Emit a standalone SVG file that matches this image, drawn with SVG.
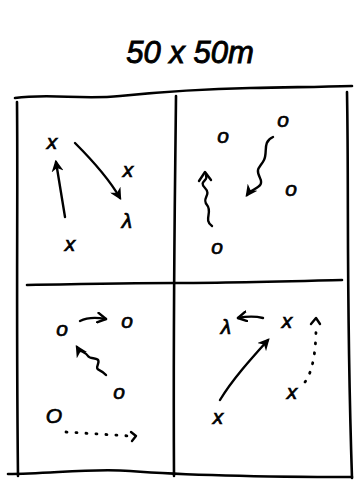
<svg xmlns="http://www.w3.org/2000/svg" width="355" height="480" viewBox="0 0 355 480">
  <defs>
    <style>
      .ink { fill: none; stroke: #000; stroke-width: 2.4; stroke-linecap: round; stroke-linejoin: round; }
      .frame { fill: none; stroke: #000; stroke-width: 2.6; stroke-linecap: round; }
      .dots { fill: none; stroke: #000; stroke-width: 2.8; stroke-linecap: round; stroke-dasharray: 1 9; }
      .mark { font-family: "Liberation Sans", Arial, sans-serif; font-style: italic; font-size: 21px; fill: #000; stroke: #000; stroke-width: 0.7; text-anchor: middle; }
      .title { font-family: "Liberation Sans", Arial, sans-serif; font-style: italic; font-size: 31px; fill: #000; stroke: #000; stroke-width: 0.9; text-anchor: middle; }
    </style>
    <marker id="headFill" viewBox="0 0 10 10" refX="8" refY="5" markerWidth="5" markerHeight="5" orient="auto" markerUnits="strokeWidth">
      <path d="M0,0 L10,5 L0,10 L3,5 Z" fill="#000"/>
    </marker>
    <marker id="headOpen" viewBox="0 0 10 10" refX="8" refY="5" markerWidth="5" markerHeight="5" orient="auto" markerUnits="strokeWidth">
      <path d="M1,1 L8,5 L1,9" fill="none" stroke="#000" stroke-width="2" stroke-linecap="round" stroke-linejoin="round"/>
    </marker>
  </defs>

  <rect width="355" height="480" fill="#fff"/>

  <!-- title -->
  <text class="title" x="190" y="63">50 x 50m</text>

  <!-- field outline and quarter lines -->
  <g id="field">
    <path class="frame" d="M15,98 C50,93 80,100 120,96 S200,89 250,88 S320,87 352,86"/>
    <path class="frame" d="M17,102 C18,200 16,300 18,476"/>
    <path class="frame" d="M347,92 C349,200 346,300 352,478"/>
    <path class="frame" d="M8,474 C50,474 90,468 130,471 S240,477 352,477"/>
    <path class="frame" d="M176,96 C175,200 173,300 174,476"/>
    <path class="frame" d="M27,285 C80,284 130,283 175,283 S300,281 342,280"/>
  </g>

  <!-- players -->
  <g id="cell-top-left">
    <text class="mark" x="52" y="149">x</text>
    <text class="mark" x="128" y="177">x</text>
    <text class="mark" x="127" y="228">λ</text>
    <text class="mark" x="70" y="251">x</text>
  </g>
  <g id="cell-top-right">
    <text class="mark" x="223" y="143">o</text>
    <text class="mark" x="283" y="127" font-size="14">o</text>
    <text class="mark" x="291" y="196">o</text>
    <text class="mark" x="217" y="254">o</text>
  </g>
  <g id="cell-bottom-left">
    <text class="mark" x="62" y="336">o</text>
    <text class="mark" x="127" y="328">o</text>
    <text class="mark" x="119" y="399">o</text>
    <text class="mark" x="54" y="423" font-size="23">O</text>
  </g>
  <g id="cell-bottom-right">
    <text class="mark" x="226" y="334">λ</text>
    <text class="mark" x="287" y="328">x</text>
    <text class="mark" x="292" y="399">x</text>
    <text class="mark" x="218" y="424">x</text>
  </g>

  <!-- movement and passing lines -->
  <g id="connectors">
    <path class="ink" d="M65,217 L56,162" marker-end="url(#headFill)" stroke-width="2.2"/>
    <path class="ink" d="M75,143 C90,158 108,177 120,198" marker-end="url(#headFill)" stroke-width="2.8"/>

    <path class="ink" d="M273,137 C262,142 268,152 264,160 S255,168 260,178 S252,188 247,195" marker-end="url(#headFill)" stroke-width="3"/>
    <path class="ink" d="M212,226 C203,220 213,212 207,205 S212,195 205,188 S209,181 206,175"/>
    <path class="ink" d="M199,181 L205,172 L211,180" stroke-width="3"/>

    <path class="ink" d="M80,321 C90,316 100,318 106,319" marker-end="url(#headOpen)"/>
    <path class="ink" d="M106,375 C100,368 95,372 98,364 S90,360 88,356 S80,352 77,347" marker-end="url(#headFill)"/>
    <path class="dots" d="M66,432 L130,436"/>
    <path class="ink" d="M131,432 L136,436 L132,441"/>

    <path class="ink" d="M263,318 C255,316 248,316 238,318" marker-end="url(#headOpen)"/>
    <path class="ink" d="M220,400 C232,380 250,360 268,340" marker-end="url(#headFill)"/>
    <path class="dots" d="M305,382 C314,370 316,345 316,328"/>
    <path class="ink" d="M311,324 L316,318 L320,324"/>
  </g>
</svg>
